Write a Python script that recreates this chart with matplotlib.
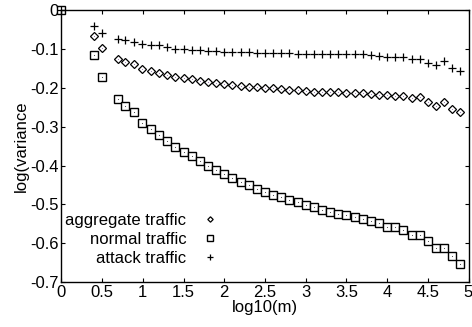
import matplotlib
matplotlib.use("Agg")
import matplotlib.pyplot as plt
from matplotlib.ticker import FuncFormatter
import numpy as np

plt.rcParams['font.family'] = ['Liberation Sans', 'DejaVu Sans']

log_m = [0.0, 0.40, 0.50, 0.69, 0.78, 0.89, 0.99,
         1.1, 1.2, 1.3, 1.4, 1.5, 1.6, 1.7, 1.8, 1.9, 2.0,
         2.1, 2.2, 2.3, 2.4, 2.5, 2.6, 2.7, 2.8, 2.9, 3.0,
         3.1, 3.2, 3.3, 3.4, 3.5, 3.6, 3.7, 3.8, 3.9, 4.0,
         4.1, 4.2, 4.3, 4.4, 4.5, 4.6, 4.7, 4.8, 4.9]

aggregate = [0.0, -0.066, -0.097, -0.124, -0.133, -0.139, -0.151,
             -0.157, -0.162, -0.167, -0.171, -0.174, -0.177, -0.181, -0.184, -0.187, -0.189,
             -0.192, -0.195, -0.196, -0.198, -0.200, -0.201, -0.202, -0.204, -0.206, -0.207,
             -0.209, -0.210, -0.210, -0.211, -0.212, -0.213, -0.213, -0.215, -0.217, -0.219,
             -0.220, -0.220, -0.226, -0.224, -0.236, -0.246, -0.235, -0.253, -0.262]

normal = [0.0, -0.115, -0.171, -0.229, -0.246, -0.262, -0.291,
          -0.305, -0.321, -0.336, -0.353, -0.364, -0.376, -0.389, -0.401, -0.411, -0.421,
          -0.433, -0.442, -0.450, -0.459, -0.469, -0.476, -0.482, -0.489, -0.495, -0.502,
          -0.506, -0.514, -0.519, -0.524, -0.528, -0.533, -0.538, -0.542, -0.549, -0.558,
          -0.557, -0.565, -0.578, -0.578, -0.594, -0.613, -0.613, -0.632, -0.654]

attack = [0.0, -0.040, -0.059, -0.073, -0.077, -0.080, -0.086,
          -0.088, -0.090, -0.093, -0.098, -0.100, -0.102, -0.103, -0.104, -0.105, -0.106,
          -0.107, -0.108, -0.108, -0.109, -0.109, -0.110, -0.110, -0.110, -0.111, -0.111,
          -0.111, -0.112, -0.112, -0.113, -0.113, -0.113, -0.113, -0.116, -0.117, -0.120,
          -0.120, -0.120, -0.124, -0.124, -0.136, -0.141, -0.129, -0.147, -0.155]

labels = ["aggregate traffic", "normal traffic", "attack traffic"]
x_ticks = [0, 0.5, 1, 1.5, 2, 2.5, 3, 3.5, 4, 4.5, 5]
y_ticks = [-0.7, -0.6, -0.5, -0.4, -0.3, -0.2, -0.1, 0]

FS = 12

fig = plt.figure(figsize=(4.72, 3.27), dpi=100)
ax = fig.add_axes([0.130, 0.1376, 0.8626, 0.8303])

ax.plot(log_m, aggregate, linestyle='none', marker='D', markersize=3.9,
        markerfacecolor='white', markeredgecolor='black', markeredgewidth=0.9,
        label=labels[0], clip_on=False)
ax.plot(log_m, normal, linestyle='none', marker='s', markersize=5.3,
        markerfacecolor='white', markeredgecolor='black', markeredgewidth=1.0,
        label=labels[1], clip_on=False)
ax.plot(log_m, attack, linestyle='none', marker='+', markersize=6.0,
        markeredgecolor='black', markeredgewidth=0.9, label=labels[2], clip_on=False)
# center dots of the open markers
ax.plot(log_m, normal, linestyle='none', marker='o', markersize=0.8,
        markerfacecolor='#444444', markeredgewidth=0, clip_on=False)
ax.plot(log_m, aggregate, linestyle='none', marker='o', markersize=0.6,
        markerfacecolor='#777777', markeredgewidth=0, clip_on=False)

ax.set_xlim(0, 5)
ax.set_ylim(-0.7, 0)
ax.set_xticks(x_ticks)
ax.set_yticks(y_ticks)
fmt = FuncFormatter(lambda v, p: ('%g' % round(v, 2)))
ax.xaxis.set_major_formatter(fmt)
ax.yaxis.set_major_formatter(fmt)
ax.tick_params(direction='in', length=3, width=0.8, top=True, right=True,
               labelsize=FS, pad=2)
for s in ax.spines.values():
    s.set_linewidth(1.0)

ax.set_xlabel("log10(m)", fontsize=FS, labelpad=0)
ax.set_ylabel("log(variance", fontsize=FS, labelpad=1)

leg = ax.legend(loc='center right', bbox_to_anchor=(0.385, 0.158), frameon=False,
                markerfirst=False, handlelength=1.0, handletextpad=0.9,
                labelspacing=0.24, borderpad=0, borderaxespad=0, fontsize=FS,
                markerscale=0.7)

fig.savefig("out.png", dpi=100)
